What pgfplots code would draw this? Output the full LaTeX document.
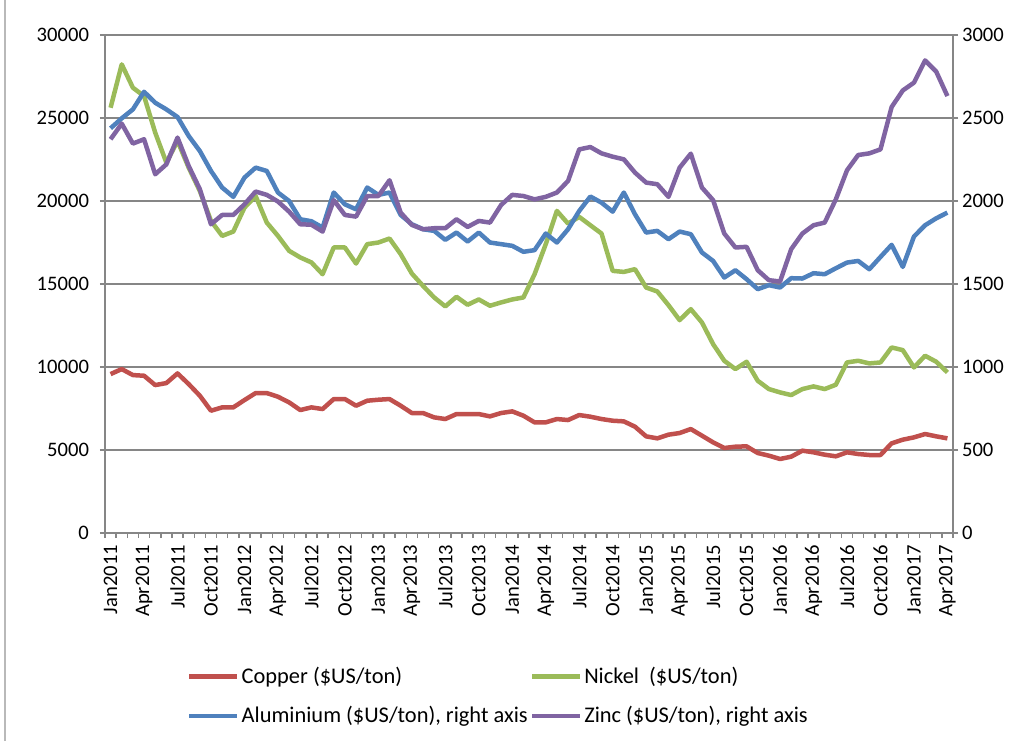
\documentclass[border=0pt]{standalone}
\usepackage{pgfplots}
\usepackage{pgfplotstable}
\pgfplotsset{compat=1.18}
\usepackage{fontspec}
\setmainfont{Carlito}
\definecolor{cuC}{HTML}{C0504D}
\definecolor{niC}{HTML}{9BBB59}
\definecolor{alC}{HTML}{4F81BD}
\definecolor{znC}{HTML}{8064A2}
\definecolor{axC}{HTML}{868686}
\pgfplotstableread{
i cu ni al zn
0 9574 25620 2438 2372
1 9875 28230 2498 2466
2 9514 26825 2552 2346
3 9473 26320 2658 2372
4 8912 24120 2592 2161
5 9032 22310 2552 2221
6 9614 23616 2506 2382
7 8972 22010 2392 2211
8 8270 20600 2301 2071
9 7367 18800 2181 1860
10 7568 17900 2081 1916
11 7568 18160 2025 1916
12 8009 19600 2141 1980
13 8430 20300 2201 2057
14 8430 18700 2181 2037
15 8210 17900 2051 1997
16 7870 17000 2000 1936
17 7407 16600 1890 1860
18 7568 16300 1878 1857
19 7467 15590 1840 1816
20 8069 17200 2051 2005
21 8069 17200 1980 1916
22 7668 16234 1950 1906
23 7969 17400 2081 2030
24 8029 17500 2037 2030
25 8069 17740 2051 2125
26 7668 16800 1916 1930
27 7227 15630 1860 1856
28 7227 14890 1830 1830
29 6966 14190 1820 1836
30 6866 13650 1766 1836
31 7166 14230 1810 1890
32 7166 13750 1756 1844
33 7166 14070 1810 1880
34 7026 13690 1750 1870
35 7227 13890 1740 1976
36 7327 14070 1730 2037
37 7066 14190 1694 2030
38 6665 15592 1704 2010
39 6665 17400 1804 2025
40 6866 19403 1750 2051
41 6805 18641 1830 2121
42 7106 19042 1940 2311
43 7006 18540 2027 2325
44 6866 18039 1990 2287
45 6765 15792 1936 2267
46 6725 15730 2051 2251
47 6404 15893 1920 2171
48 5822 14789 1810 2111
49 5702 14550 1820 2101
50 5923 13726 1770 2025
51 6023 12823 1816 2201
52 6264 13485 1800 2285
53 5863 12683 1690 2081
54 5461 11379 1639 2005
55 5120 10376 1539 1804
56 5200 9875 1583 1720
57 5220 10316 1529 1724
58 4819 9172 1469 1583
59 4659 8671 1493 1523
60 4458 8470 1479 1515
61 4599 8310 1535 1710
62 4960 8671 1533 1804
63 4860 8831 1565 1854
64 4719 8671 1559 1870
65 4619 8932 1595 2010
66 4860 10276 1629 2185
67 4759 10376 1639 2277
68 4699 10216 1589 2287
69 4699 10276 1663 2311
70 5401 11178 1736 2566
71 5622 11018 1603 2666
72 5762 9975 1786 2713
73 5963 10677 1854 2847
74 5822 10316 1896 2779
75 5702 9674 1930 2632
}\metals
\begin{document}
\begin{tikzpicture}[x=1pt,y=1pt]
\useasboundingbox (0,0) rectangle (511.5,370.5);
\draw[gray!55, line width=0.6pt] (2.5,0) -- (2.5,370.5);
\pgfplotsset{
  every axis/.append style={
    at={(52.5pt,104pt)}, anchor=south west, scale only axis,
    width=424pt, height=249pt,
    xmin=-0.5, xmax=75.5,
    axis line style={axC, line width=0.75pt},
    tick style={axC, line width=0.75pt},
    tick align=outside,
    major tick length=2.5pt, minor tick length=2.5pt,
    tick label style={font=\fontsize{10.3}{12}\selectfont, /pgf/number format/assume math mode=true},
    /pgf/number format/1000 sep={},
    scaled ticks=false,
  },
}
\begin{axis}[
  ymin=0, ymax=30000,
  ytick={0,5000,...,30000},
  ytick pos=left, xtick pos=bottom,
  ymajorgrids, major grid style={axC, line width=0.75pt},
  yticklabel style={xshift=-2pt},
  xtick={0,3,...,75},
  xticklabels={Jan2011,Apr2011,Jul2011,Oct2011,Jan2012,Apr2012,Jul2012,Oct2012,Jan2013,Apr2013,Jul2013,Oct2013,Jan2014,Apr2014,Jul2014,Oct2014,Jan2015,Apr2015,Jul2015,Oct2015,Jan2016,Apr2016,Jul2016,Oct2016,Jan2017,Apr2017},
  xticklabel style={rotate=90, anchor=east},
  major x tick style={draw=none},
  minor xtick={-0.5,0.5,...,75.5},
  legend columns=2,
  legend cell align=left,
  legend style={at={(0.0894,-0.256)}, anchor=north west, draw=none, fill=none,
    font=\fontsize{11.2}{13}\selectfont, row sep=8pt,
    nodes={inner xsep=1pt, inner ysep=1pt}},
  legend image code/.code={\draw[#1, line width=2.25pt] (0pt,0pt) -- (24pt,0pt);},
]
\addplot[cuC, line width=2.25pt, line join=round] table[x=i, y=cu] {\metals};
\addlegendentry{Copper (\$US/ton)}
\addplot[niC, line width=2.25pt, line join=round] table[x=i, y=ni] {\metals};
\addlegendentry{Nickel\ \ (\$US/ton)}
\addlegendimage{alC}
\addlegendentry{Aluminium (\$US/ton), right axis}
\addlegendimage{znC}
\addlegendentry{Zinc (\$US/ton), right axis}
\end{axis}
\begin{axis}[
  ymin=0, ymax=3000,
  ytick={0,500,...,3000},
  axis y line*=right, hide x axis,
  ytick pos=right,
  yticklabel style={xshift=-1.5pt},
]
\addplot[alC, line width=2.25pt, line join=round] table[x=i, y=al] {\metals};
\addplot[znC, line width=2.25pt, line join=round] table[x=i, y=zn] {\metals};
\end{axis}
\end{tikzpicture}
\end{document}
